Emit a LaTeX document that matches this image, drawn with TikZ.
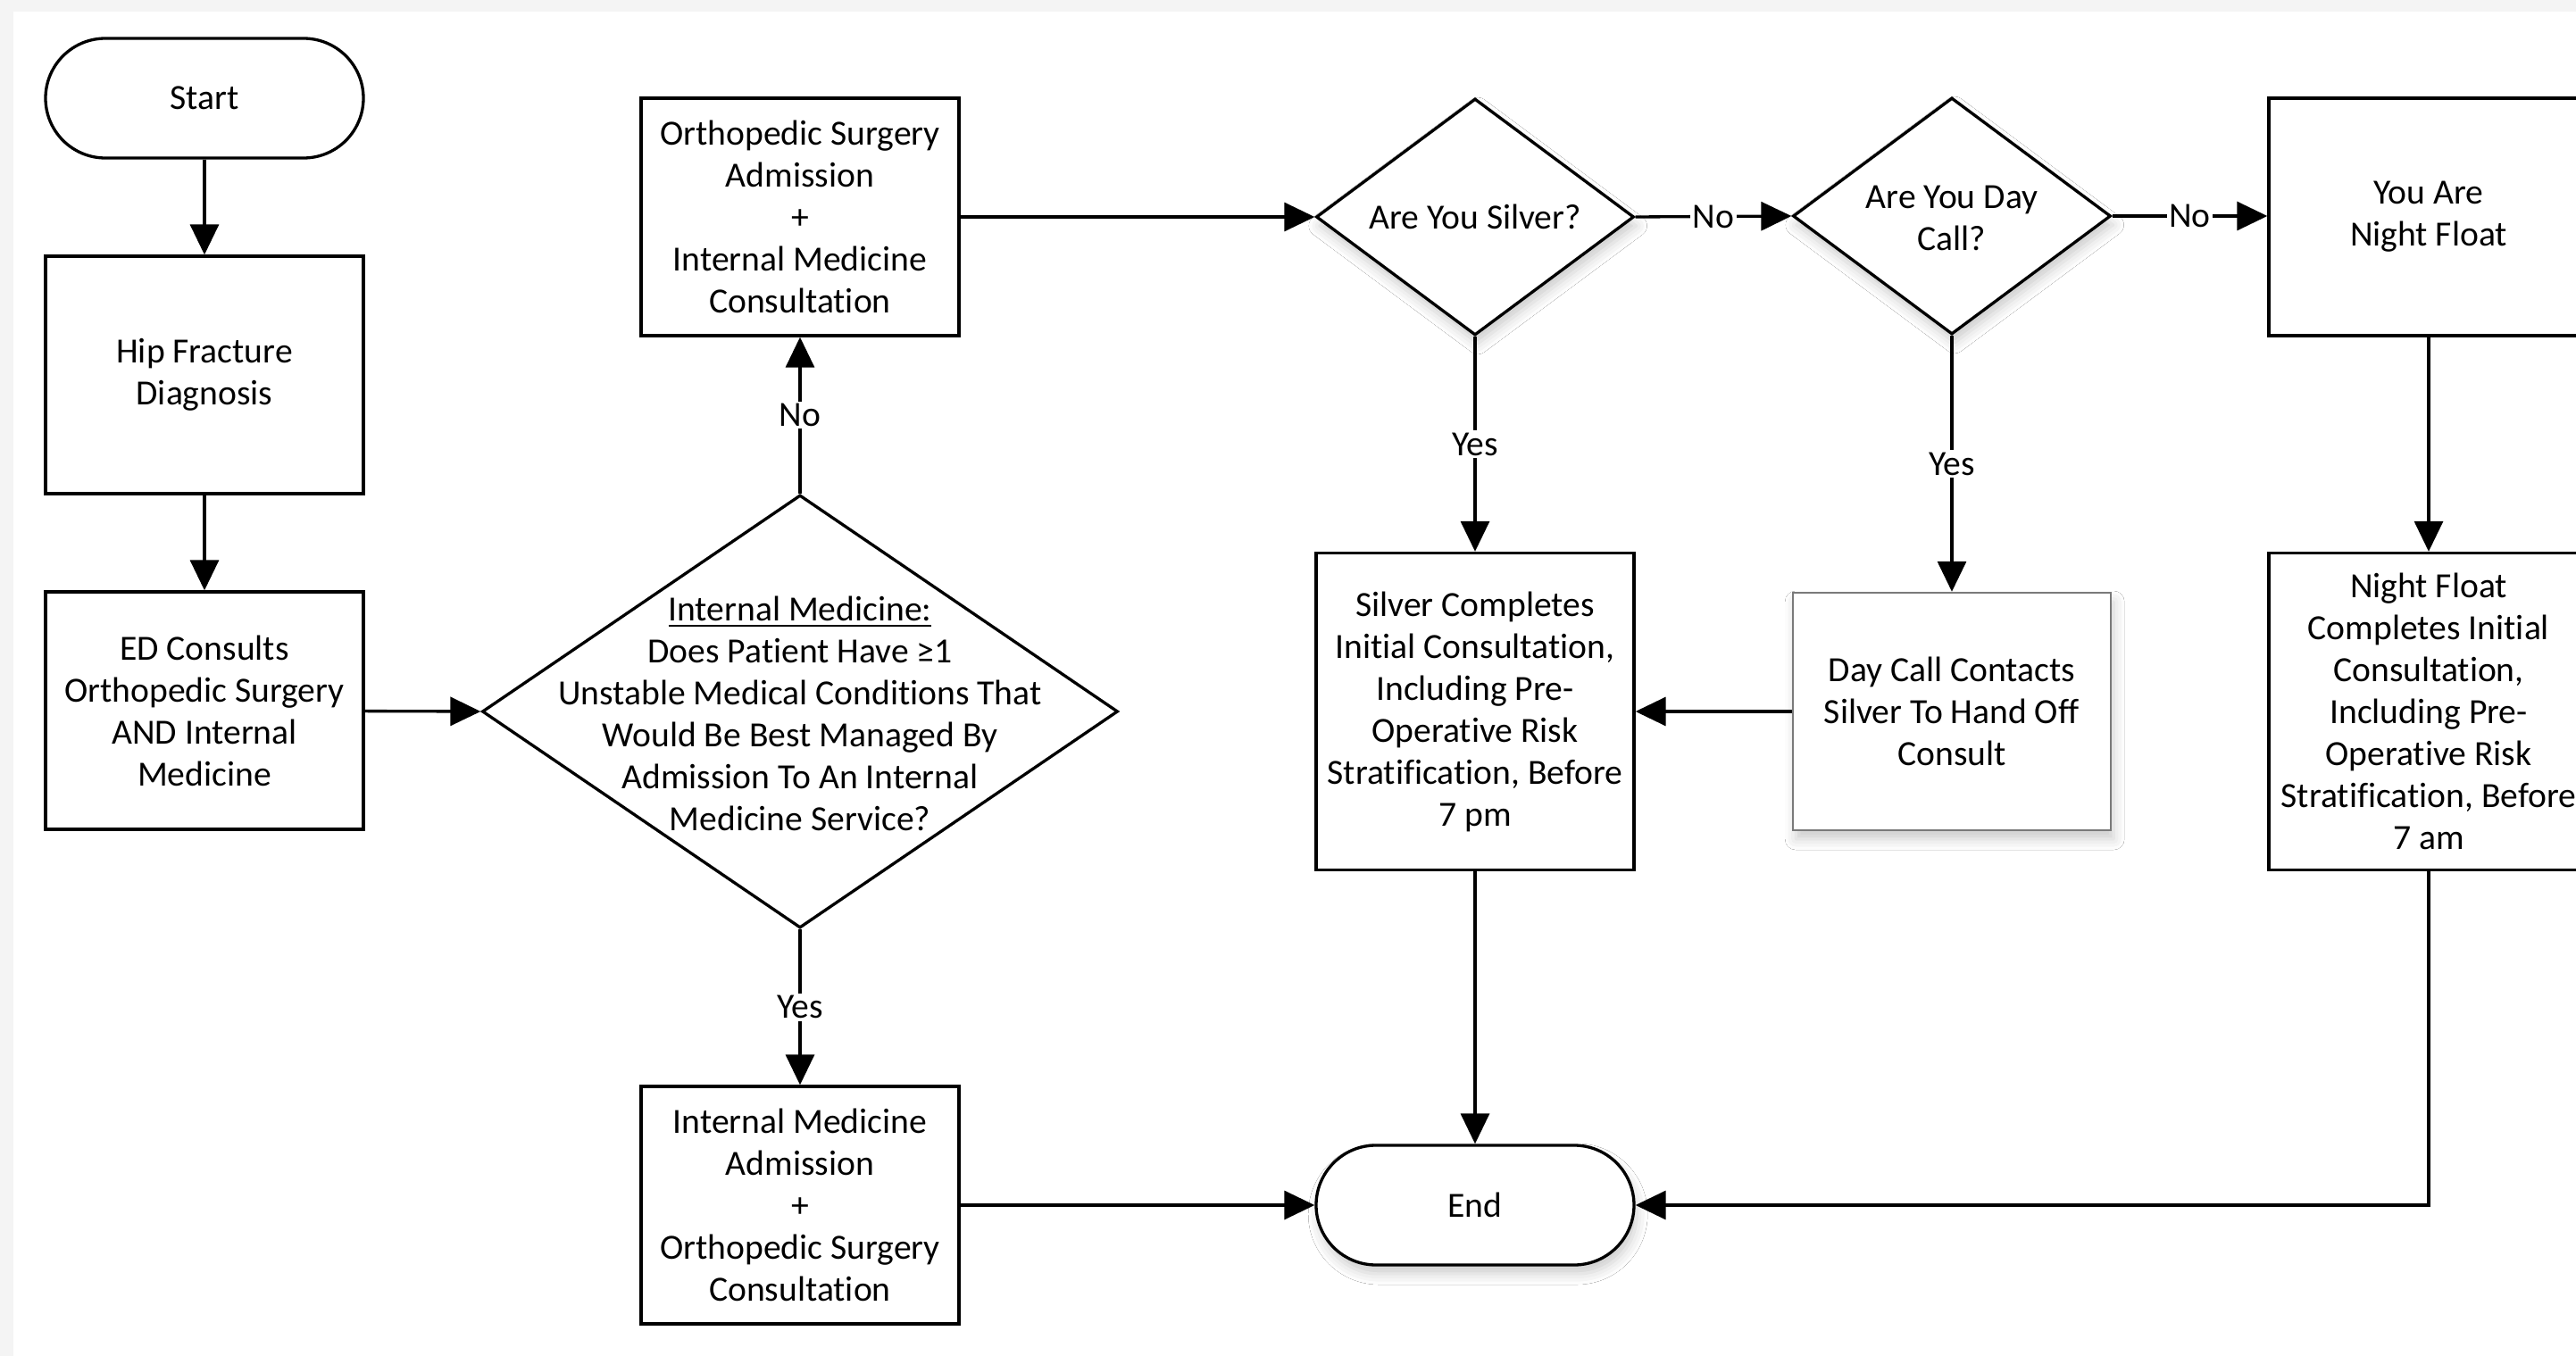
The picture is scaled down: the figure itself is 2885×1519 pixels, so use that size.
\documentclass[tikz,border=0pt]{standalone}
\usepackage{fontspec}
\setmainfont{Carlito}[Ligatures=NoCommon]
\usetikzlibrary{shapes.geometric,arrows.meta,shadows.blur}
\definecolor{bggray}{HTML}{F4F4F4}
\definecolor{boxgray}{HTML}{7A7A7A}
\newcommand{\mainfs}{\fontsize{9.9pt}{11.75pt}\selectfont}
\tikzset{
  base/.style={draw=black, line width=0.83pt, fill=white, align=center, inner sep=0pt, font=\mainfs},
  proc/.style={base, rectangle, minimum width=89pt, minimum height=66.5pt},
  tallproc/.style={proc, minimum height=88.75pt},
  term/.style={base, rectangle, rounded corners=16.75pt, minimum width=89pt, minimum height=33.5pt},
  decis/.style={base, diamond, minimum width=89pt, minimum height=66.25pt},
  bigdecis/.style={base, diamond, minimum width=178pt, minimum height=121.25pt},
  dtext/.style={align=center, inner sep=0pt, font=\mainfs},
  softshadow/.style={blur shadow={shadow xshift=0.8pt, shadow yshift=-2.5pt, shadow blur radius=3pt, shadow opacity=20}},
  arr/.style={line width=0.83pt, -{Triangle[length=8.5pt,width=8pt]}},
  lbl/.style={fill=white, inner sep=0.6pt, font=\mainfs},
}
\begin{document}
\begin{tikzpicture}[x=0.25pt, y=-0.25pt]
  \useasboundingbox (0,0) rectangle (2885,1519);
  \fill[bggray] (0,0) rectangle (2885,1519);
  \fill[white] (15,13) rectangle (2885,1519);

  % left column
  \node[term] (start) at (229,110) {Start};
  \node[proc] (hip) at (229,420) {Hip Fracture\\Diagnosis};
  \node[proc] (ed) at (229,796) {ED Consults\\Orthopedic Surgery\\AND Internal\\Medicine};

  % second column
  \node[proc] (ortho) at (896,243) {Orthopedic Surgery\\Admission\\+\\Internal Medicine\\Consultation};
  \node[bigdecis] (im) at (896,797) {};
  \node[dtext] (imt) at (896,799) {\underline{Internal Medicine:}\\Does Patient Have ≥1\\Unstable Medical Conditions That\\Would Be Best Managed By\\Admission To An Internal\\Medicine Service?};
  \node[proc] (ima) at (896,1350) {Internal Medicine\\Admission\\+\\Orthopedic Surgery\\Consultation};

  % third column
  \node[decis, softshadow] (silver) at (1652,243) {};
  \node[dtext] (silvert) at (1652,243) {Are You Silver?};
  \node[tallproc] (sc) at (1652,797) {Silver Completes\\Initial Consultation,\\Including Pre-\\Operative Risk\\Stratification, Before\\7 pm};
  \node[term, softshadow] (end) at (1652,1350) {End};

  % fourth column
  \node[decis, softshadow] (day) at (2186,242) {};
  \node[dtext] (dayt) at (2186,244) {Are You Day\\Call?};
  \node[proc, draw=boxgray, line width=0.6pt, softshadow] (dc) at (2186,797) {Day Call Contacts\\Silver To Hand Off\\Consult};

  % fifth column
  \node[proc, minimum width=89.5pt] (nf) at (2720,243) {You Are\\Night Float};
  \node[tallproc, minimum width=89.5pt] (nfc) at (2720,797) {Night Float\\Completes Initial\\Consultation,\\Including Pre-\\Operative Risk\\Stratification, Before\\7 am};

  % connectors
  \draw[arr] (start) -- (hip);
  \draw[arr] (hip) -- (ed);
  \draw[arr] (ed) -- (im.west);
  \draw[arr] (im.north) -- node[lbl] {No} (ortho.south);
  \draw[arr] (im.south) -- node[lbl] {Yes} (ima.north);
  \draw[arr] (ortho.east) -- (silver.west);
  \draw[arr] (silver.east) -- node[lbl] {No} (day.west);
  \draw[arr] (day.east) -- node[lbl] {No} (nf.west |- day.east);
  \draw[arr] (silver.south) -- node[lbl] {Yes} (sc.north);
  \draw[arr] (day.south) -- node[lbl] {Yes} (dc.north);
  \draw[arr] (dc.west) -- (sc.east);
  \draw[arr] (sc.south) -- (end.north);
  \draw[arr] (ima.east) -- (end.west);
  \draw[arr] (nf.south) -- (nfc.north);
  \draw[arr] (nfc.south) |- (end.east);
\end{tikzpicture}
\end{document}
